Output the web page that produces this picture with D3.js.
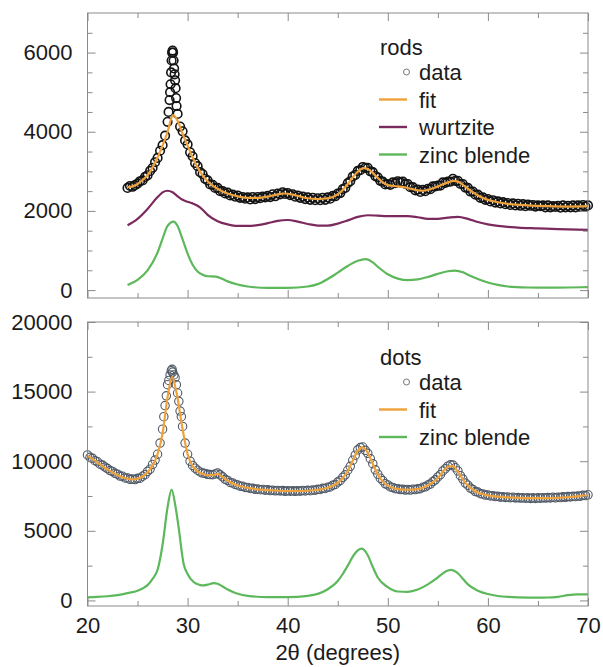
<!DOCTYPE html>
<html>
<head>
<meta charset="utf-8">
<script src="https://cdn.jsdelivr.net/npm/d3@7"></script>
<style>
  html, body { margin: 0; padding: 0; background: #fff; }
  svg { display: block; font-family: "Liberation Sans", Arial, Helvetica, sans-serif; }
</style>
</head>
<body>
<div id="chart"></div>
<script>
// ============================================
// DATA
// ============================================

// x axis (2 theta, degrees)
const xMajorTicks = [20, 30, 40, 50, 60, 70];
const xMinorTicks = [25, 35, 45, 55, 65];
const xTitle = '2\u03b8 (degrees)';

// rods panel
const rodsYMajor = [0, 2000, 4000, 6000];
const rodsYMinor = [500, 1000, 1500, 2500, 3000, 3500, 4500, 5000, 5500, 6500];
const rodsLegend = ['rods', 'data', 'fit', 'wurtzite', 'zinc blende'];

// measured points, 24.00 .. 70.00 every 0.25 deg
const rodsDataStart = 24;
const rodsDataStep = 0.25;
const rodsData = [
  2580, 2630, 2610, 2650,   // 24
  2690, 2750, 2770, 2860,   // 25
  2900, 3010, 3090, 3230,   // 26
  3340, 3520, 3660, 3900,   // 27
  4250, 5000, 6050, 5300,   // 28
  4450, 4130, 4010, 3780,   // 29
  3680, 3480, 3380, 3210,   // 30
  3130, 2980, 2930, 2810,   // 31
  2770, 2670, 2660, 2580,   // 32
  2580, 2500, 2500, 2440,   // 33
  2460, 2390, 2410, 2360,   // 34
  2390, 2330, 2350, 2310,   // 35
  2340, 2290, 2350, 2300,   // 36
  2350, 2320, 2360, 2340,   // 37
  2380, 2350, 2420, 2370,   // 38
  2440, 2420, 2470, 2430,   // 39
  2450, 2400, 2420, 2360,   // 40
  2390, 2330, 2360, 2300,   // 41
  2340, 2280, 2330, 2270,   // 42
  2320, 2270, 2330, 2280,   // 43
  2340, 2310, 2380, 2370,   // 44
  2440, 2450, 2550, 2580,   // 45
  2700, 2750, 2870, 2910,   // 46
  3010, 3030, 3110, 3090,   // 47
  3090, 3000, 2980, 2880,   // 48
  2850, 2760, 2740, 2670,   // 49
  2680, 2660, 2720, 2700,   // 50
  2750, 2720, 2740, 2680,   // 51
  2680, 2600, 2600, 2520,   // 52
  2540, 2480, 2530, 2500,   // 53
  2560, 2550, 2620, 2620,   // 54
  2640, 2640, 2720, 2710,   // 55
  2740, 2740, 2810, 2760,   // 56
  2760, 2680, 2680, 2590,   // 57
  2580, 2490, 2490, 2410,   // 58
  2410, 2330, 2340, 2280,   // 59
  2300, 2240, 2270, 2210,   // 60
  2240, 2190, 2220, 2170,   // 61
  2200, 2150, 2190, 2140,   // 62
  2180, 2130, 2170, 2120,   // 63
  2160, 2130, 2150, 2110,   // 64
  2140, 2120, 2140, 2090,   // 65
  2140, 2090, 2120, 2100,   // 66
  2130, 2080, 2140, 2090,   // 67
  2130, 2090, 2140, 2090,   // 68
  2140, 2100, 2150, 2110,   // 69
  2140                      // 70
];
// extra points on the narrow 28.5 deg spike
const rodsSpike = [
  [28.1, 4500], [28.2, 4800], [28.3, 5200], [28.35, 5500], [28.4, 5800],
  [28.45, 6000], [28.55, 6000], [28.6, 5800], [28.65, 5600], [28.7, 5450],
  [28.8, 5100], [28.85, 4850], [28.9, 4650]
];

const rodsFit = [
  [24, 2600], [24.5, 2620], [25, 2680], [25.5, 2780], [26, 2900], [26.5, 3100],
  [27, 3350], [27.5, 3650], [28, 4000], [28.55, 4420], [29, 4280], [29.5, 3950],
  [30, 3650], [30.5, 3350], [31, 3100], [31.5, 2900], [32, 2750], [32.5, 2640],
  [33, 2560], [33.5, 2490], [34, 2440], [35, 2370], [36, 2330], [37, 2330],
  [38, 2360], [39, 2420], [39.6, 2440], [40.5, 2410], [41, 2380], [42, 2320],
  [43, 2300], [44, 2320], [45, 2420], [45.5, 2530], [46, 2680], [46.5, 2850],
  [47, 2990], [47.6, 3080], [48, 3060], [48.5, 2960], [49, 2830], [49.5, 2720],
  [50, 2650], [51, 2620], [52, 2580], [53, 2520], [53.5, 2510], [54, 2530],
  [55, 2620], [56, 2720], [56.6, 2760], [57, 2740], [57.5, 2660], [58, 2560],
  [58.5, 2470], [59, 2390], [60, 2280], [61, 2220], [62, 2180], [64, 2140],
  [66, 2120], [68, 2110], [70, 2120]
];

const rodsWurtzite = [
  [24, 1640], [25, 1800], [26, 2050], [27, 2350], [27.5, 2470], [28, 2510],
  [28.5, 2470], [29, 2370], [29.5, 2280], [30, 2230], [30.5, 2190], [31, 2130],
  [31.5, 2030], [32, 1900], [33, 1740], [34, 1660], [35, 1620], [36, 1620],
  [37, 1640], [38, 1690], [39, 1750], [40, 1770], [41, 1730], [42, 1670],
  [43, 1630], [44, 1630], [45, 1680], [46, 1760], [47, 1850], [48, 1890],
  [49, 1880], [50, 1870], [51, 1870], [52, 1870], [53, 1840], [54, 1800],
  [55, 1800], [56, 1830], [57, 1850], [58, 1800], [59, 1720], [60, 1660],
  [61, 1620], [63, 1580], [65, 1560], [67, 1540], [70, 1520]
];

const rodsZincBlende = [
  [24, 130], [25, 260], [26, 500], [27, 950], [27.5, 1300], [28, 1620],
  [28.6, 1730], [29, 1620], [29.5, 1280], [30, 920], [30.5, 640], [31, 470],
  [31.5, 390], [32, 350], [32.8, 340], [33.5, 280], [34, 220], [35, 140],
  [36, 90], [38, 55], [40, 55], [42, 90], [43, 150], [44, 280], [45, 440],
  [46, 610], [47, 740], [47.8, 780], [48.5, 700], [49, 590], [50, 400],
  [51, 290], [52, 250], [53, 270], [54, 330], [55, 410], [56, 475],
  [56.7, 490], [57.5, 450], [58, 390], [59, 280], [60, 190], [61, 130],
  [62, 90], [64, 65], [66, 60], [68, 65], [70, 75]
];

// dots panel
const dotsYMajor = [0, 5000, 10000, 15000, 20000];
const dotsYMinor = [2500, 7500, 12500, 17500];
const dotsLegend = ['dots', 'data', 'fit', 'zinc blende'];

// measured points, 20.00 .. 70.00 every 0.25 deg
const dotsDataStart = 20;
const dotsDataStep = 0.25;
const dotsData = [
  10450, 10280, 10210, 10040,   // 20
  9960, 9790, 9720, 9580,       // 21
  9470, 9330, 9270, 9130,       // 22
  9070, 8930, 8920, 8800,       // 23
  8800, 8700, 8720, 8680,       // 24
  8770, 8780, 8920, 9030,       // 25
  9270, 9430, 9770, 10080,      // 26
  10500, 11300, 12300, 14000,   // 27
  15500, 16200, 16400, 16000,   // 28
  14900, 13600, 12500, 11300,   // 29
  10500, 10000, 9700, 9500,     // 30
  9350, 9230, 9150, 9120,       // 31
  9060, 9040, 9030, 9090,       // 32
  9150, 9020, 8880, 8700,       // 33
  8620, 8480, 8440, 8330,       // 34
  8300, 8210, 8200, 8120,       // 35
  8120, 8040, 8050, 7980,       // 36
  8010, 7950, 7970, 7920,       // 37
  7950, 7890, 7920, 7870,       // 38
  7900, 7860, 7890, 7840,       // 39
  7880, 7850, 7870, 7840,       // 40
  7880, 7850, 7900, 7860,       // 41
  7910, 7880, 7940, 7920,       // 42
  7980, 7970, 8050, 8040,       // 43
  8130, 8150, 8280, 8330,       // 44
  8500, 8620, 8840, 9020,       // 45
  9350, 9630, 10070, 10430,     // 46
  10820, 10980, 11020, 10780,   // 47
  10570, 10180, 9820, 9380,     // 48
  9070, 8780, 8600, 8380,       // 49
  8300, 8150, 8120, 8030,       // 50
  8030, 7960, 7980, 7930,       // 51
  7970, 7930, 7990, 7960,       // 52
  8020, 8030, 8130, 8160,       // 53
  8290, 8360, 8540, 8660,       // 54
  8870, 9030, 9300, 9460,       // 55
  9640, 9740, 9720, 9530,       // 56
  9300, 8960, 8720, 8430,       // 57
  8280, 8070, 7970, 7820,       // 58
  7780, 7670, 7650, 7570,       // 59
  7580, 7510, 7520, 7460,       // 60
  7480, 7420, 7450, 7400,       // 61
  7430, 7380, 7410, 7360,       // 62
  7390, 7350, 7380, 7340,       // 63
  7370, 7330, 7370, 7330,       // 64
  7370, 7340, 7380, 7350,       // 65
  7390, 7360, 7410, 7370,       // 66
  7420, 7390, 7440, 7410,       // 67
  7460, 7430, 7480, 7460,       // 68
  7510, 7490, 7550, 7530,       // 69
  7590                          // 70
];
// extra points on the sharp 28.4 deg peak
const dotsSpike = [
  [27.625, 13200], [27.875, 14700], [28.125, 15800], [28.375, 16500],
  [28.45, 16600], [28.625, 16200], [28.875, 15500], [29.125, 14300],
  [29.375, 13200]
];

const dotsFit = [
  [20, 10400], [20.5, 10150], [21, 9900], [21.5, 9650], [22, 9400], [22.5, 9200],
  [23, 9000], [23.5, 8850], [24, 8750], [24.5, 8700], [25, 8750], [25.5, 8900],
  [26, 9200], [26.5, 9700], [27, 10500], [27.5, 12000], [28, 14600], [28.45, 16050],
  [28.9, 14900], [29.5, 12300], [30, 10500], [30.5, 9650], [31, 9250], [31.5, 9100],
  [32, 9000], [32.5, 9000], [33, 9100], [33.5, 8850], [34, 8600], [35, 8250],
  [36, 8080], [37, 7980], [38, 7920], [39, 7880], [40, 7860], [41, 7860],
  [42, 7880], [43, 7950], [44, 8100], [45, 8450], [45.5, 8800], [46, 9300],
  [46.5, 10050], [47, 10750], [47.5, 11000], [48, 10600], [48.5, 9800], [49, 9050],
  [49.5, 8550], [50, 8250], [51, 8000], [52, 7950], [53, 8000], [54, 8250],
  [55, 8800], [55.5, 9250], [56, 9600], [56.5, 9650], [57, 9250], [57.5, 8700],
  [58, 8250], [58.5, 7950], [59, 7750], [60, 7550], [61, 7450], [62, 7400],
  [64, 7350], [66, 7350], [68, 7420], [70, 7550]
];

const dotsZincBlende = [
  [20, 220], [21, 250], [22, 300], [23, 380], [24, 520], [25, 700], [25.5, 860],
  [26, 1100], [26.5, 1550], [27, 2200], [27.5, 4000], [28, 6700], [28.4, 7960],
  [28.8, 6700], [29.1, 5270], [29.6, 2640], [30, 1900], [30.6, 1320], [31.2, 1120],
  [31.6, 1080], [32, 1130], [32.6, 1250], [33, 1200], [33.5, 1000], [34, 780],
  [35, 480], [36, 330], [38, 240], [40, 240], [42, 330], [43, 470], [44, 800],
  [45, 1400], [45.5, 1900], [46, 2500], [46.5, 3150], [47, 3600], [47.4, 3720],
  [48, 3250], [48.5, 2400], [49, 1650], [50, 950], [51, 640], [52, 620],
  [53, 780], [54, 1150], [55, 1650], [55.5, 1950], [56, 2150], [56.3, 2200],
  [57, 1950], [57.5, 1550], [58, 1150], [59, 700], [60, 460], [61, 320],
  [62, 250], [64, 200], [66, 210], [67, 260], [68, 380], [69, 430], [70, 430]
];

// ============================================
// STYLE
// ============================================

const colors = {
  fit: '#EFA13A',
  wurtzite: '#7B2A5E',
  zincBlende: '#5DB85B',
  frame: '#8a8a8a',
  text: '#1b1b1b'
};

const W = 603, H = 667;
const plotLeft = 87.5, plotRight = 588;

const svg = d3.select('#chart')
  .append('svg')
  .attr('width', W)
  .attr('height', H);

const x = d3.scaleLinear().domain([20, 70]).range([plotLeft, plotRight]);

// ============================================
// HELPERS
// ============================================

function toPoints(values, start, step) {
  return values.map((v, i) => [start + i * step, v]);
}

function drawTicks(g, y, cfg, top, bottom) {
  const major = 8, minor = 5;

  const addAxis = (axisFn, scale, values, size, transform, labels) => {
    const a = g.append('g')
      .attr('transform', transform)
      .call(axisFn(scale).tickValues(values).tickSize(-size).tickPadding(labels ? labels.pad : 0)
        .tickFormat(labels ? d3.format('d') : ''));
    a.select('.domain').remove();
    a.selectAll('line').attr('stroke', colors.frame).attr('stroke-width', 1);
    a.selectAll('text')
      .attr('fill', colors.text)
      .style('font-size', '22px')
      .style('font-family', '"Liberation Sans", Arial, sans-serif');
    return a;
  };

  // x ticks, bottom and top edges
  addAxis(d3.axisBottom, x, xMajorTicks, major, `translate(0,${bottom})`,
    cfg.xLabels ? { pad: 11 } : null);
  addAxis(d3.axisBottom, x, xMinorTicks, minor, `translate(0,${bottom})`, null);
  addAxis(d3.axisTop, x, xMajorTicks, major, `translate(0,${top})`, null);
  addAxis(d3.axisTop, x, xMinorTicks, minor, `translate(0,${top})`, null);

  // y ticks, left and right edges
  addAxis(d3.axisLeft, y, cfg.yMajor, major, `translate(${plotLeft},0)`, { pad: 15 });
  addAxis(d3.axisLeft, y, cfg.yMinor, minor, `translate(${plotLeft},0)`, null);
  addAxis(d3.axisRight, y, cfg.yMajor, major, `translate(${plotRight},0)`, null);
  addAxis(d3.axisRight, y, cfg.yMinor, minor, `translate(${plotRight},0)`, null);
}

function drawPanel(cfg) {
  const g = svg.append('g');
  const y = d3.scaleLinear().domain(cfg.yDomain).range([cfg.bottom, cfg.top]);

  const line = d3.line()
    .x(d => x(d[0]))
    .y(d => y(d[1]))
    .curve(d3.curveMonotoneX);

  // component curves
  cfg.components.forEach(c => {
    g.append('path')
      .datum(c.data)
      .attr('fill', 'none')
      .attr('stroke', c.color)
      .attr('stroke-width', 2.2)
      .attr('d', line);
  });

  // measured points
  g.append('g')
    .selectAll('circle')
    .data(cfg.points)
    .join('circle')
    .attr('cx', d => x(d[0]))
    .attr('cy', d => y(d[1]))
    .attr('r', cfg.pointRadius)
    .attr('fill', 'none')
    .attr('stroke', cfg.pointColor)
    .attr('stroke-width', cfg.pointWidth);

  // fit on top of the data
  g.append('path')
    .datum(cfg.fit)
    .attr('fill', 'none')
    .attr('stroke', colors.fit)
    .attr('stroke-width', 2.2)
    .attr('d', line);

  // frame
  g.append('rect')
    .attr('x', plotLeft)
    .attr('y', cfg.top)
    .attr('width', plotRight - plotLeft)
    .attr('height', cfg.bottom - cfg.top)
    .attr('fill', 'none')
    .attr('stroke', colors.frame)
    .attr('stroke-width', 1);

  drawTicks(g, y, cfg, cfg.top, cfg.bottom);

  // legend
  const lg = g.append('g').style('font-size', '22px').attr('fill', colors.text);
  lg.append('text').attr('x', 380).attr('y', cfg.legendY).text(cfg.legend[0]);
  cfg.legend.slice(1).forEach((name, i) => {
    const by = cfg.legendY + 25 + i * 27.5;
    lg.append('text').attr('x', 419).attr('y', by).text(name);
    if (name === 'data') {
      lg.append('circle')
        .attr('cx', 406.5).attr('cy', by - 8).attr('r', 3)
        .attr('fill', 'none').attr('stroke', '#777').attr('stroke-width', 1);
    } else {
      const col = name === 'fit' ? colors.fit
        : name === 'wurtzite' ? colors.wurtzite : colors.zincBlende;
      lg.append('line')
        .attr('x1', 379).attr('x2', 407)
        .attr('y1', by - 8).attr('y2', by - 8)
        .attr('stroke', col).attr('stroke-width', 2.4);
    }
  });

  return y;
}

// ============================================
// PANELS
// ============================================

drawPanel({
  top: 13, bottom: 298,
  yDomain: [-200, 7000],
  yMajor: rodsYMajor, yMinor: rodsYMinor,
  xLabels: false,
  points: toPoints(rodsData, rodsDataStart, rodsDataStep).concat(rodsSpike),
  pointRadius: 4.3, pointColor: '#141414', pointWidth: 1.6,
  fit: rodsFit,
  components: [
    { data: rodsWurtzite, color: colors.wurtzite },
    { data: rodsZincBlende, color: colors.zincBlende }
  ],
  legend: rodsLegend, legendY: 55
});

drawPanel({
  top: 322, bottom: 606,
  yDomain: [-400, 20000],
  yMajor: dotsYMajor, yMinor: dotsYMinor,
  xLabels: true,
  points: toPoints(dotsData, dotsDataStart, dotsDataStep).concat(dotsSpike),
  pointRadius: 4.2, pointColor: '#4f5966', pointWidth: 1.1,
  fit: dotsFit,
  components: [
    { data: dotsZincBlende, color: colors.zincBlende }
  ],
  legend: dotsLegend, legendY: 365
});

// x axis title
svg.append('text')
  .attr('x', (plotLeft + plotRight) / 2)
  .attr('y', 660)
  .attr('text-anchor', 'middle')
  .attr('fill', colors.text)
  .style('font-size', '22px')
  .text(xTitle);
</script>
</body>
</html>
